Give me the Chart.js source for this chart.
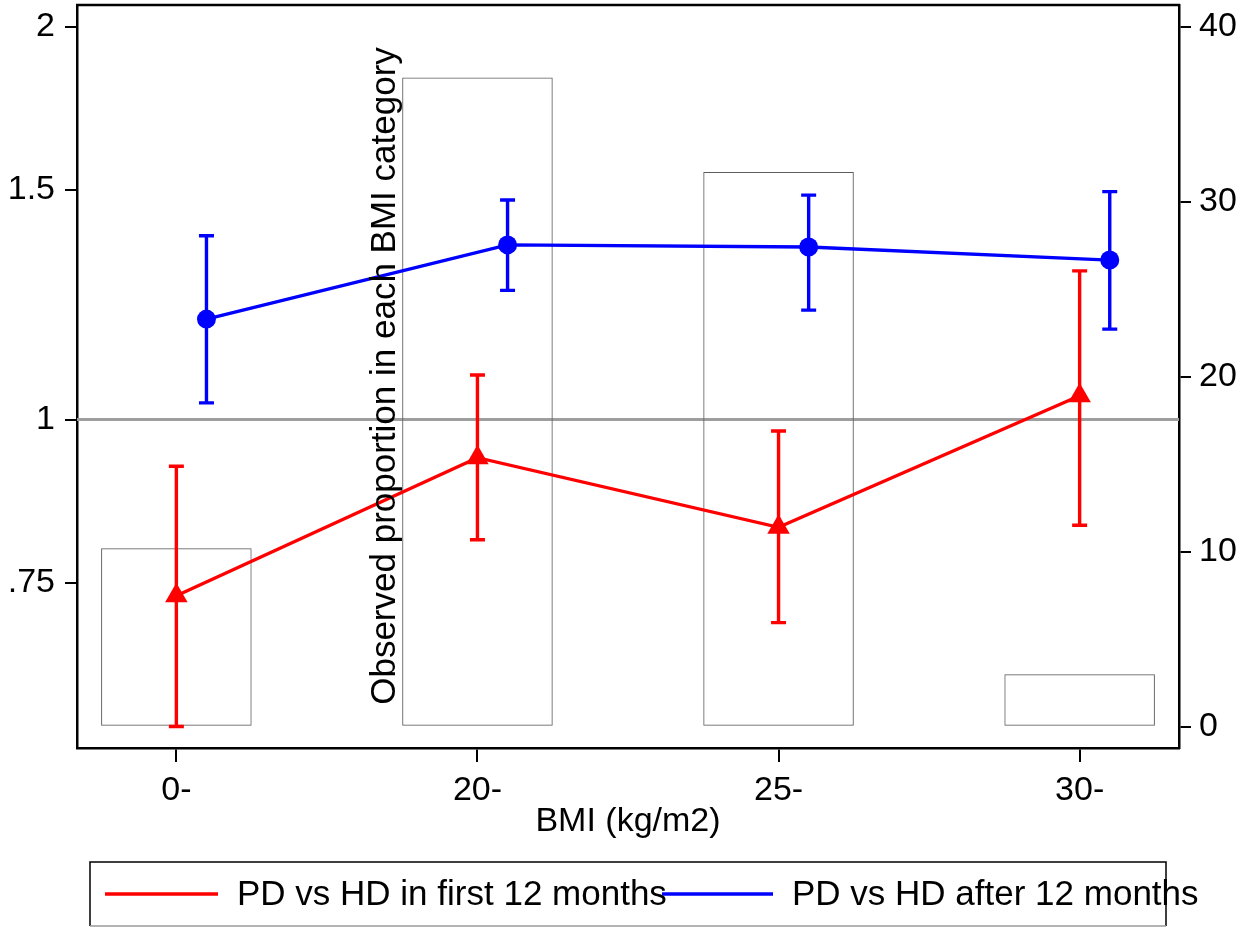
<!DOCTYPE html>
<html>
<head>
<meta charset="utf-8">
<title>PD vs HD by BMI category</title>
<script src="https://cdn.jsdelivr.net/npm/chart.js@4.4.1/dist/chart.umd.min.js"></script>
<style>
  html, body { margin: 0; padding: 0; background: #fff; }
  canvas { display: block; }
</style>
</head>
<body>
<canvas id="bmiChart" width="1240" height="927"></canvas>
<script>
// BMI categories (kg/m2)
const categories = ['0-', '20-', '25-', '30-'];

// PD vs HD, first 12 months: estimate and 95% CI
const firstYearHR = [0.733, 0.935, 0.827, 1.043];
const firstYearLower = [0.582, 0.809, 0.699, 0.830];
const firstYearUpper = [0.921, 1.082, 0.980, 1.300];

// PD vs HD, after 12 months: estimate and 95% CI
const laterHR = [1.194, 1.361, 1.356, 1.325];
const laterLower = [1.030, 1.256, 1.213, 1.173];
const laterUpper = [1.383, 1.473, 1.486, 1.495];

// observed % of patients in each BMI category (right axis)
const bmiShare = [10.2, 37.1, 31.7, 3.0];

const hrTicks = [0.75, 1, 1.5, 2];
const hrTickLabels = ['.75', '1', '1.5', '2'];
const shareTicks = [0, 10, 20, 30, 40];

const seriesLabels = ['PD vs HD in first 12 months', 'PD vs HD after 12 months'];
const shareTitle = 'Observed proportion in each BMI category';

const FONT = "'Liberation Sans', Arial, Helvetica, sans-serif";
const RED = '#ff0000';
const BLUE = '#0000ff';
const LATER_SHIFT = 0.1;   // dodge the second series a little to the right
const CAP = 7.5;
const STROKE = 3.4;

// reference line at HR = 1 and the top edge of the plot frame
const frameLines = {
    id: 'frameLines',
    beforeDatasetsDraw(chart) {
        const { ctx, chartArea: a, scales } = chart;
        const y = scales.y.getPixelForValue(1);
        ctx.save();
        ctx.strokeStyle = '#9e9e9e';
        ctx.lineWidth = 3;
        ctx.beginPath();
        ctx.moveTo(a.left, y);
        ctx.lineTo(a.right, y);
        ctx.stroke();
        ctx.restore();
    },
    afterDraw(chart) {
        const { ctx, chartArea: a } = chart;
        ctx.save();
        ctx.strokeStyle = '#000';
        ctx.lineWidth = 2.5;
        ctx.beginPath();
        ctx.moveTo(a.left - 1, a.top);
        ctx.lineTo(a.right + 1, a.top);
        ctx.stroke();
        ctx.restore();
    }
};

// capped CI bars for both series
const errorBars = {
    id: 'errorBars',
    afterDatasetsDraw(chart) {
        const { ctx, scales: { x, y } } = chart;
        const draw = (lower, upper, shift, color) => {
            ctx.strokeStyle = color;
            ctx.lineWidth = STROKE;
            lower.forEach((lo, i) => {
                const px = x.getPixelForValue(i + shift);
                const yLo = y.getPixelForValue(lo);
                const yHi = y.getPixelForValue(upper[i]);
                ctx.beginPath();
                ctx.moveTo(px, yLo);
                ctx.lineTo(px, yHi);
                ctx.moveTo(px - CAP, yLo);
                ctx.lineTo(px + CAP, yLo);
                ctx.moveTo(px - CAP, yHi);
                ctx.lineTo(px + CAP, yHi);
                ctx.stroke();
            });
        };
        ctx.save();
        draw(firstYearLower, firstYearUpper, 0, RED);
        draw(laterLower, laterUpper, LATER_SHIFT, BLUE);
        ctx.restore();
    }
};

// title of the right axis, written up the plot beside the 20- bar
const shareAxisTitle = {
    id: 'shareAxisTitle',
    afterDraw(chart) {
        const { ctx } = chart;
        ctx.save();
        ctx.translate(395, 376);
        ctx.rotate(-Math.PI / 2);
        ctx.font = `35px ${FONT}`;
        ctx.fillStyle = '#000';
        ctx.textAlign = 'center';
        ctx.textBaseline = 'alphabetic';
        ctx.fillText(shareTitle, 0, 0);
        ctx.restore();
    }
};

// two-column legend under the x axis title
const bottomLegend = {
    id: 'bottomLegend',
    afterDraw(chart) {
        const { ctx } = chart;
        const box = { left: 90, top: 862, right: 1166, bottom: 926 };
        const items = [
            { from: 105, to: 218, textX: 237 },
            { from: 662, to: 773, textX: 792 }
        ];
        const midY = 894;
        ctx.save();
        items.forEach((it, i) => {
            const ds = chart.data.datasets[i];
            ctx.strokeStyle = ds.borderColor;
            ctx.lineWidth = STROKE;
            ctx.beginPath();
            ctx.moveTo(it.from, midY);
            ctx.lineTo(it.to, midY);
            ctx.stroke();
        });
        ctx.font = `35px ${FONT}`;
        ctx.fillStyle = '#000';
        ctx.textBaseline = 'middle';
        ctx.textAlign = 'left';
        items.forEach((it, i) => {
            ctx.fillText(chart.data.datasets[i].label, it.textX, midY + 1);
        });
        ctx.lineWidth = 1.5;
        ctx.strokeStyle = '#000';
        ctx.beginPath();
        ctx.moveTo(box.left, box.bottom);
        ctx.lineTo(box.left, box.top);
        ctx.lineTo(box.right, box.top);
        ctx.lineTo(box.right, box.bottom);
        ctx.stroke();
        ctx.strokeStyle = '#9a9a9a';
        ctx.beginPath();
        ctx.moveTo(box.left, box.bottom);
        ctx.lineTo(box.right, box.bottom);
        ctx.stroke();
        ctx.restore();
    }
};

const tickFont = { family: FONT, size: 34 };

// the y axes must not push the plot down for their half-height end labels
const fixedWidth = (w) => (scale) => {
    scale.width = w;
    scale.paddingTop = 0;
    scale.paddingBottom = 0;
};

new Chart(document.getElementById('bmiChart'), {
    type: 'line',
    data: {
        datasets: [
            {
                type: 'line',
                label: seriesLabels[0],
                data: categories.map((c, i) => ({ x: i, y: firstYearHR[i] })),
                borderColor: RED,
                backgroundColor: RED,
                borderWidth: STROKE,
                pointStyle: 'triangle',
                pointRadius: 13,
                pointBorderWidth: 0,
                pointBackgroundColor: RED,
                yAxisID: 'y',
                order: 1
            },
            {
                type: 'line',
                label: seriesLabels[1],
                data: categories.map((c, i) => ({ x: i + LATER_SHIFT, y: laterHR[i] })),
                borderColor: BLUE,
                backgroundColor: BLUE,
                borderWidth: STROKE,
                pointStyle: 'circle',
                pointRadius: 9.5,
                pointBorderWidth: 0,
                pointBackgroundColor: BLUE,
                yAxisID: 'y',
                order: 2
            },
            {
                type: 'bar',
                label: shareTitle,
                data: categories.map((c, i) => ({ x: i, y: bmiShare[i] })),
                yAxisID: 'y1',
                backgroundColor: 'rgba(0, 0, 0, 0)',
                borderColor: '#5c5c5c',
                borderWidth: 1,
                borderSkipped: false,
                barPercentage: 0.5,
                categoryPercentage: 1,
                order: 3
            }
        ]
    },
    options: {
        responsive: false,
        animation: false,
        devicePixelRatio: 1,
        events: [],
        layout: { autoPadding: false, padding: { top: 5, left: 0, right: 0, bottom: 0 } },
        plugins: {
            legend: { display: false },
            tooltip: { enabled: false }
        },
        scales: {
            x: {
                type: 'linear',
                position: 'bottom',
                min: -0.33,
                max: 3.33,
                offset: false,
                afterBuildTicks: (scale) => {
                    scale.ticks = categories.map((c, i) => ({ value: i }));
                },
                afterFit: (scale) => {
                    scale.height = 179;
                    scale.paddingLeft = 0;
                    scale.paddingRight = 0;
                },
                ticks: {
                    callback: (value) => categories[value] ?? '',
                    font: tickFont,
                    color: '#000',
                    padding: 8,
                    maxRotation: 0,
                    autoSkip: false
                },
                grid: { offset: false, drawOnChartArea: false, tickLength: 14, color: '#000', lineWidth: 2 },
                border: { color: '#000', width: 2.5 },
                title: {
                    display: true,
                    text: 'BMI (kg/m2)',
                    font: { family: FONT, size: 34 },
                    color: '#000',
                    padding: { top: 0, bottom: 85 }
                }
            },
            y: {
                type: 'logarithmic',
                position: 'left',
                min: 0.5603,
                max: 2.078,
                afterBuildTicks: (scale) => {
                    scale.ticks = hrTicks.map(v => ({ value: v }));
                },
                afterFit: fixedWidth(77),
                ticks: {
                    callback: (value) => {
                        const k = hrTicks.indexOf(value);
                        return k >= 0 ? hrTickLabels[k] : '';
                    },
                    font: tickFont,
                    color: '#000',
                    padding: 10
                },
                grid: { drawOnChartArea: false, tickLength: 12, color: '#000', lineWidth: 2 },
                border: { color: '#000', width: 2.5 }
            },
            y1: {
                type: 'linear',
                position: 'right',
                min: -1.22,
                max: 41.24,
                afterBuildTicks: (scale) => {
                    scale.ticks = shareTicks.map(v => ({ value: v }));
                },
                afterFit: fixedWidth(61),
                ticks: {
                    font: tickFont,
                    color: '#000',
                    padding: 8
                },
                grid: { drawOnChartArea: false, tickLength: 12, color: '#000', lineWidth: 2 },
                border: { color: '#000', width: 2.5 }
            }
        }
    },
    plugins: [frameLines, errorBars, shareAxisTitle, bottomLegend]
});
</script>
</body>
</html>
